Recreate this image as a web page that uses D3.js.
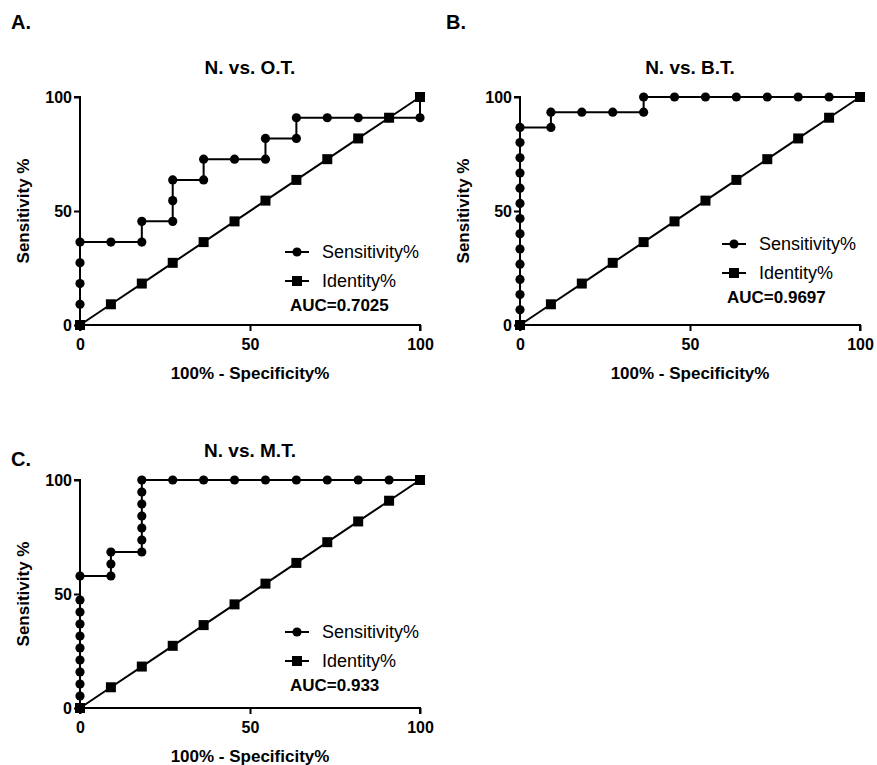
<!DOCTYPE html>
<html>
<head>
<meta charset="utf-8">
<script src="https://cdn.jsdelivr.net/npm/d3@7"></script>
<style>
  body { margin: 0; background: #fff; }
  svg { font-family: "Liberation Sans", Arial, sans-serif; }
</style>
</head>
<body>
<div id="container"></div>
<script>
// identity line (diagonal), same for every panel
var identity = [0, 9.09, 18.18, 27.27, 36.36, 45.45, 54.55, 63.64, 72.73, 81.82, 90.91, 100];

// A. N. vs. O.T.
var specA = [0, 0, 0, 0, 0, 9.09, 18.18, 18.18, 27.27, 27.27, 27.27, 36.36, 36.36, 45.45,
             54.55, 54.55, 63.64, 63.64, 72.73, 81.82, 90.91, 100, 100];
var sensA = [0, 9.09, 18.18, 27.27, 36.36, 36.36, 36.36, 45.45, 45.45, 54.55, 63.64, 63.64, 72.73, 72.73,
             72.73, 81.82, 81.82, 90.91, 90.91, 90.91, 90.91, 90.91, 100];

// B. N. vs. B.T.
var specB = [0, 0, 0, 0, 0, 0, 0, 0, 0, 0, 0, 0, 0, 0,
             9.09, 9.09, 18.18, 27.27, 36.36, 36.36, 45.45, 54.55, 63.64, 72.73, 81.82, 90.91, 100];
var sensB = [0, 6.67, 13.33, 20, 26.67, 33.33, 40, 46.67, 53.33, 60, 66.67, 73.33, 80, 86.67,
             86.67, 93.33, 93.33, 93.33, 93.33, 100, 100, 100, 100, 100, 100, 100, 100];

// C. N. vs. M.T.
var specC = [0, 0, 0, 0, 0, 0, 0, 0, 0, 0, 0,
             9.09, 9.09, 9.09, 18.18, 18.18, 18.18, 18.18, 18.18, 18.18, 18.18,
             27.27, 36.36, 45.45, 54.55, 63.64, 72.73, 81.82, 90.91, 100];
var sensC = [0, 5.26, 10.53, 15.79, 21.05, 26.32, 31.58, 36.84, 42.11, 47.37, 57.89,
             57.89, 63.16, 68.42, 68.42, 73.68, 78.95, 84.21, 89.47, 94.74, 100,
             100, 100, 100, 100, 100, 100, 100, 100, 100];

var titles = ["N. vs. O.T.", "N. vs. B.T.", "N. vs. M.T."];
var letters = ["A.", "B.", "C."];
var aucs = ["AUC=0.7025", "AUC=0.9697", "AUC=0.933"];
var ticks = [0, 50, 100];
var legendNames = ["Sensitivity%", "Identity%"];

var W = 340, H = 228;
var panels = [
  { spec: specA, sens: sensA, left: 80, top: 97, letterX: 11, letterY: 29, leg: [217, 155] },
  { spec: specB, sens: sensB, left: 520, top: 97, letterX: 446, letterY: 29, leg: [214, 147] },
  { spec: specC, sens: sensC, left: 80, top: 480, letterX: 11, letterY: 466, leg: [217, 152] }
];

var svg = d3.select("#container")
  .append("svg")
  .attr("width", 877)
  .attr("height", 765);

var x = d3.scaleLinear().domain([0, 100]).range([0, W]);
var y = d3.scaleLinear().domain([0, 100]).range([H, 0]);

var line = d3.line()
  .x(function(d) { return x(d[0]); })
  .y(function(d) { return y(d[1]); });

panels.forEach(function(p, i) {
  svg.append("text")
    .attr("x", p.letterX)
    .attr("y", p.letterY)
    .style("font-size", "20px")
    .style("font-weight", "bold")
    .text(letters[i]);

  var g = svg.append("g")
    .attr("transform", "translate(" + p.left + "," + p.top + ")");

  g.append("text")
    .attr("x", W / 2)
    .attr("y", -23)
    .attr("text-anchor", "middle")
    .style("font-size", "19px")
    .style("font-weight", "bold")
    .text(titles[i]);

  var xAxis = g.append("g")
    .attr("transform", "translate(0," + H + ")")
    .call(d3.axisBottom(x).tickValues(ticks).tickSize(6).tickPadding(8));
  var yAxis = g.append("g")
    .call(d3.axisLeft(y).tickValues(ticks).tickSize(6).tickPadding(2));

  [xAxis, yAxis].forEach(function(a) {
    a.select(".domain").attr("stroke", "#000").attr("stroke-width", 2);
    a.selectAll(".tick line").attr("stroke", "#000").attr("stroke-width", 2);
    a.selectAll(".tick text")
      .attr("fill", "#000")
      .style("font-size", "16px")
      .style("font-weight", "bold")
      .style("font-family", "Liberation Sans, Arial, sans-serif");
  });
  // axes in the picture start right at the tick, no outer end stubs
  xAxis.select(".domain").attr("d", "M0,6V0H" + W + "V6");
  yAxis.select(".domain").attr("d", "M-6,0H0V" + H);

  g.append("text")
    .attr("x", W / 2)
    .attr("y", H + 54)
    .attr("text-anchor", "middle")
    .style("font-size", "17px")
    .style("font-weight", "bold")
    .text("100% - Specificity%");

  g.append("text")
    .attr("transform", "translate(-51," + (H / 2) + ") rotate(-90)")
    .attr("text-anchor", "middle")
    .style("font-size", "17px")
    .style("font-weight", "bold")
    .text("Sensitivity %");

  var sensPts = d3.zip(p.spec, p.sens);
  var idPts = identity.map(function(v) { return [v, v]; });

  g.append("path")
    .datum(sensPts)
    .attr("d", line)
    .attr("fill", "none")
    .attr("stroke", "#000")
    .attr("stroke-width", 2);

  g.selectAll(".sensPt")
    .data(sensPts)
    .enter().append("circle")
      .classed("sensPt", true)
      .attr("cx", function(d) { return x(d[0]); })
      .attr("cy", function(d) { return y(d[1]); })
      .attr("r", 4.6)
      .attr("fill", "#000");

  g.append("path")
    .datum(idPts)
    .attr("d", line)
    .attr("fill", "none")
    .attr("stroke", "#000")
    .attr("stroke-width", 2);

  g.selectAll(".idPt")
    .data(idPts)
    .enter().append("rect")
      .classed("idPt", true)
      .attr("x", function(d) { return x(d[0]) - 5; })
      .attr("y", function(d) { return y(d[1]) - 5; })
      .attr("width", 10)
      .attr("height", 10)
      .attr("fill", "#000");

  // legend
  var legend = g.append("g")
    .attr("transform", "translate(" + p.leg[0] + "," + p.leg[1] + ")");

  var legendItem = legend.selectAll(".legendItem")
    .data(legendNames)
    .enter().append("g")
      .classed("legendItem", true)
      .attr("transform", function(d, j) { return "translate(0," + j * 29 + ")"; });

  legendItem.append("line")
    .attr("x1", -12).attr("x2", 12)
    .attr("stroke", "#000").attr("stroke-width", 2);

  legendItem.each(function(d, j) {
    if (j === 0) {
      d3.select(this).append("circle").attr("r", 4.6).attr("fill", "#000");
    } else {
      d3.select(this).append("rect")
        .attr("x", -5).attr("y", -5).attr("width", 10).attr("height", 10)
        .attr("fill", "#000");
    }
  });

  legendItem.append("text")
    .attr("x", 25)
    .attr("dy", "0.35em")
    .style("font-size", "18px")
    .text(function(d) { return d; });

  legend.append("text")
    .attr("x", -7)
    .attr("y", 53)
    .attr("dy", "0.35em")
    .style("font-size", "17px")
    .style("font-weight", "bold")
    .text(aucs[i]);
});
</script>
</body>
</html>
